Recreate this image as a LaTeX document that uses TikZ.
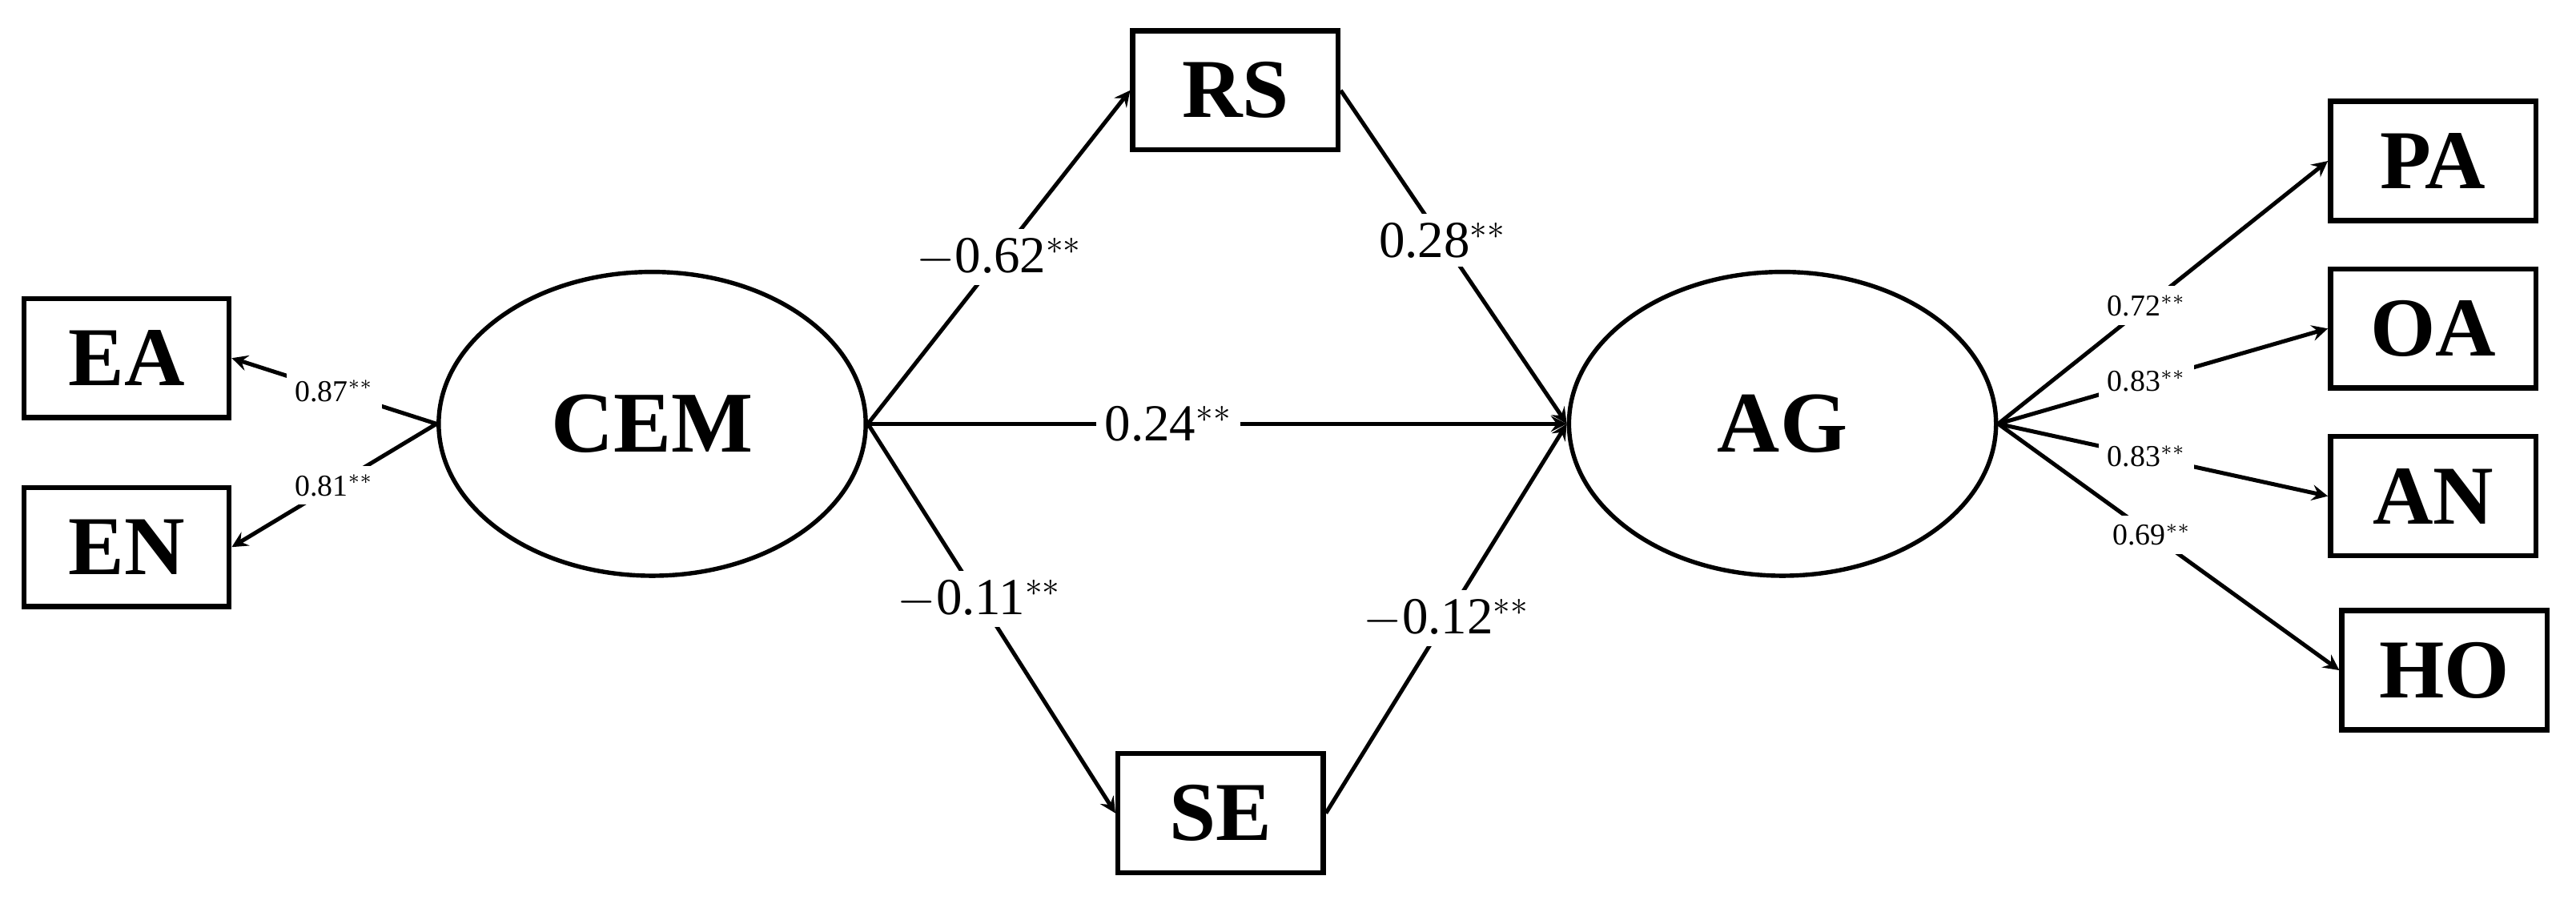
\documentclass[tikz,border=0pt]{standalone}
\usepackage{fontspec}
\setmainfont{Liberation Serif}
\usetikzlibrary{shapes.geometric}
\begin{document}
\begin{tikzpicture}[x=0.02cm,y=-0.02cm,
    box/.style={draw,line width=1.8pt,minimum width=2.5cm,minimum height=1.45cm,font=\fontsize{29}{29}\selectfont\bfseries},
    lat/.style={draw,ellipse,line width=1.5pt,minimum width=5.2cm,minimum height=3.7cm,font=\fontsize{30}{30}\selectfont\bfseries},
    coef/.style={fill=white,inner sep=3pt,font=\fontsize{18}{18}\selectfont},
    load/.style={fill=white,inner sep=3pt,font=\fontsize{10.5}{10.5}\selectfont},
    path/.style={->,>=stealth,line width=1.4pt}]
  \useasboundingbox (0,0) rectangle (1568,550);
  % nodes
  \node[box] (ea) at (77,218) {EA};
  \node[box] (en) at (77,333) {EN};
  \node[box] (rs) at (752,55) {RS};
  \node[box] (se) at (743,495) {SE};
  \node[box] (pa) at (1481,98) {PA};
  \node[box] (oa) at (1481,200) {OA};
  \node[box] (an) at (1481,302) {AN};
  \node[box] (ho) at (1488,408) {HO};
  \node[lat] (cem) at (397,258) {CEM};
  \node[lat] (ag) at (1085,258) {AG};
  % structural paths
  \draw[path] (cem.east) -- node[coef,pos=0.5] {$-$0.62$^{**}$} (rs.west);
  \draw[path] (rs.east) -- node[coef,pos=0.45] {0.28$^{**}$} (ag.west);
  \draw[path] (cem.east) -- node[coef,pos=0.43] {0.24$^{**}$} (ag.west);
  \draw[path] (cem.east) -- node[coef,pos=0.45] {$-$0.11$^{**}$} (se.west);
  \draw[path] (se.east) -- node[coef,pos=0.5] {$-$0.12$^{**}$} (ag.west);
  % loadings
  \draw[path] (cem.west) -- node[load] {0.87$^{**}$} (ea.east);
  \draw[path] (cem.west) -- node[load] {0.81$^{**}$} (en.east);
  \draw[path] (ag.east) -- node[load,pos=0.45] {0.72$^{**}$} (pa.west);
  \draw[path] (ag.east) -- node[load,pos=0.45] {0.83$^{**}$} (oa.west);
  \draw[path] (ag.east) -- node[load,pos=0.45] {0.83$^{**}$} (an.west);
  \draw[path] (ag.east) -- node[load,pos=0.45] {0.69$^{**}$} (ho.west);
\end{tikzpicture}
\end{document}
